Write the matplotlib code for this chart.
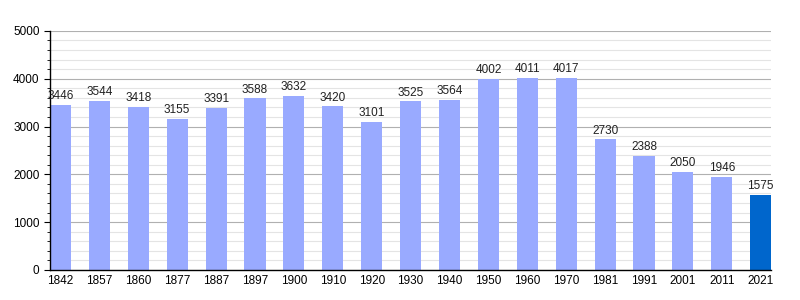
import matplotlib.pyplot as plt
from matplotlib.ticker import MultipleLocator

plt.rcParams['font.family'] = ['Liberation Sans', 'DejaVu Sans']

# Datos
years = ['1842', '1857', '1860', '1877', '1887', '1897', '1900', '1910', '1920', '1930',
         '1940', '1950', '1960', '1970', '1981', '1991', '2001', '2011', '2021']
population = [3446, 3544, 3418, 3155, 3391, 3588, 3632, 3420, 3101, 3525,
              3564, 4002, 4011, 4017, 2730, 2388, 2050, 1946, 1575]

fig = plt.figure(figsize=(8, 3), dpi=100)
ax = fig.add_axes([0.0625, 0.1, 0.9015, 0.797])

colors = ['#99aaff'] * (len(years) - 1) + ['#0066cc']
x = list(range(len(years)))
ax.bar(x, population, width=0.54, color=colors, zorder=2)

for xi, v in zip(x, population):
    ax.text(xi, v + 60, str(v), ha='center', va='bottom', fontsize=8.5, color='#222222')

ax.set_xlim(-0.27, len(years) - 1 + 0.27)
ax.set_ylim(0, 5000)
ax.set_xticks(x)
ax.set_xticklabels(years, fontsize=8.5)
ax.yaxis.set_major_locator(MultipleLocator(1000))
ax.yaxis.set_minor_locator(MultipleLocator(200))
ax.tick_params(axis='y', labelsize=8.5, length=4)
ax.tick_params(axis='y', which='minor', length=2)
ax.tick_params(axis='x', length=0)

ax.grid(axis='y', which='major', color='#b0b0b0', linewidth=0.8, zorder=0)
ax.grid(axis='y', which='minor', color='#e4e4e4', linewidth=0.8, zorder=0)
ax.set_axisbelow(True)

for s in ['top', 'right']:
    ax.spines[s].set_visible(False)
ax.spines['left'].set_linewidth(1)
ax.spines['bottom'].set_linewidth(1)

fig.savefig('out.png', dpi=100)
